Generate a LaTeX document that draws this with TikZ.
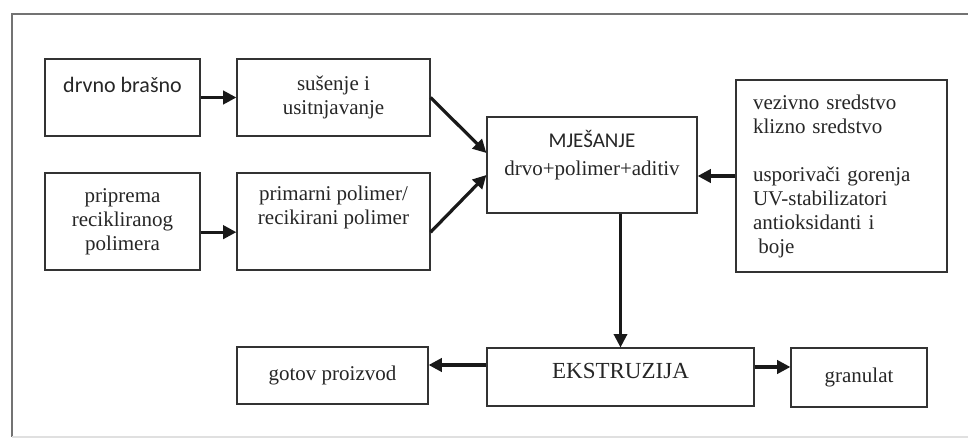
\documentclass[tikz,border=0pt]{standalone}
\usepackage{fontspec}
\setmainfont{Liberation Serif}
\newfontfamily\carl{Carlito}
\usetikzlibrary{arrows.meta}

\begin{document}
\begin{tikzpicture}[x=0.75pt, y=-0.75pt, line width=2.4pt, >={Triangle[length=10pt,width=10pt]},
  box/.style={rectangle,draw=black!80,line width=0.9pt,text=black!85,inner sep=2pt,align=center,font=\fontsize{15.75}{18}\selectfont}]
\useasboundingbox (0,0) rectangle (968,441);
\draw[black!55, line width=1pt] (990,14) -- (12,14) -- (12,437);
\draw[black!12, line width=1pt] (12,437) -- (990,437);
\begin{scope}
\node[box, minimum width=116.25pt, minimum height=57.75pt, text height=12pt, text depth=18.8pt, font=\carl\fontsize{16.5}{18}\selectfont] (bras) at (122.5,97.5) {drvno brašno};
\node[box, minimum width=144.75pt, minimum height=57.75pt] (suse) at (333.5,97.5) {sušenje i\\ usitnjavanje};
\node[box, minimum width=116.25pt, minimum height=72.75pt] (prip) at (122.5,221.5) {priprema\\ recikliranog\\ polimera};
\node[box, minimum width=144.75pt, minimum height=72.75pt, text height=30pt, text depth=26pt] (prim) at (333.5,221.5) {primarni polimer/\\ recikirani polimer};
\node[box, minimum width=157.5pt, minimum height=72pt, text height=36pt, text depth=20pt] (mjes) at (592,165) {{\carl MJEŠANJE}\\[3pt] drvo+polimer+aditiv};
\node[box, minimum width=158.25pt, minimum height=144pt, inner xsep=12.75pt, text width=132.75pt, align=left] (adit) at (841.5,176) {vezivno sredstvo\\ klizno sredstvo\\[18pt] usporivači gorenja\\ UV-stabilizatori\\ antioksidanti i\\ \hspace{0.25em}boje};
\node[box, minimum width=143.25pt, minimum height=42.75pt] (gotov) at (332.5,375.5) {gotov proizvod};
\node[box, minimum width=200.25pt, minimum height=43.5pt, text height=11.5pt, text depth=9pt, font=\fontsize{17.25}{18}\selectfont] (ekst) at (620.5,377) {EKSTRUZIJA};
\node[box, minimum width=102pt, minimum height=44.25pt] (gran) at (859,377.5) {granulat};
\end{scope}
\begin{scope}[->, black!90]
\draw (bras) -- (suse);
\draw ([yshift=-8pt]prip.east) -- ([yshift=-8pt]prim.west);
\draw (suse.east) -- ([yshift=9pt]mjes.west);
\draw ([yshift=-8pt]prim.east) -- ([yshift=-7.5pt]mjes.west);
\draw (adit.west) -- (adit.west -| mjes.east);
\draw[line width=1.8pt] (ekst.north |- mjes.south) -- (ekst.north);
\draw ([yshift=9pt]ekst.west) -- ([yshift=9pt]ekst.west -| gotov.east);
\draw ([yshift=7.5pt]ekst.east) -- ([yshift=7.5pt]ekst.east -| gran.west);
\end{scope}
\end{tikzpicture}
\end{document}
